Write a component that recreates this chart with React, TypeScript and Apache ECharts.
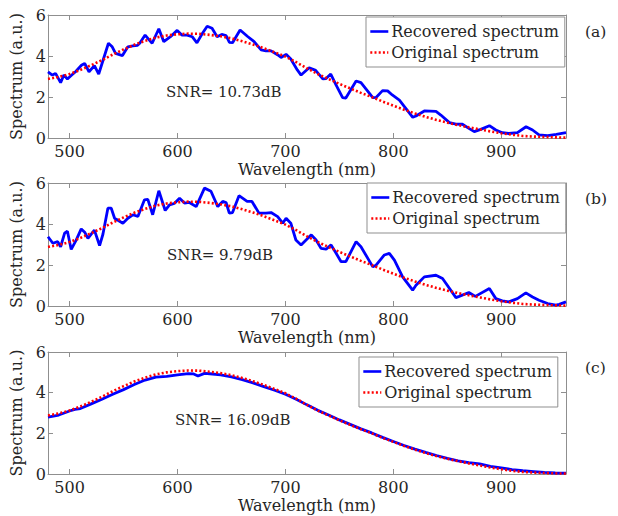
import React, { useEffect, useRef } from "react";
import * as echarts from "echarts";

// Original (reference) spectrum, sampled every 10 nm
const ORIGINAL_WL = [
  480, 490, 500, 510, 520, 530, 540, 550, 560, 570, 580, 590, 600, 610, 620, 630, 640, 650, 660, 670,
  680, 690, 700, 710, 720, 730, 740, 750, 760, 770, 780, 790, 800, 810, 820, 830, 840, 850, 860, 870,
  880, 890, 900, 910, 920, 930, 940, 950, 960,
];
const ORIGINAL = [
  2.88, 2.98, 3.12, 3.32, 3.55, 3.8, 4.07, 4.32, 4.55, 4.74, 4.9, 5.0, 5.06, 5.09, 5.08, 5.03, 4.96, 4.86, 4.72, 4.56,
  4.38, 4.18, 3.97, 3.7, 3.4, 3.12, 2.88, 2.64, 2.42, 2.2, 2.0, 1.78, 1.58, 1.38, 1.2, 1.03, 0.88, 0.75, 0.63, 0.52,
  0.42, 0.32, 0.23, 0.16, 0.1, 0.07, 0.05, 0.03, 0.02,
];

// (a) recovered spectrum, SNR 10.73 dB
const REC_A_WL = [
  480, 484, 487, 491.7, 494.7, 498, 502, 505.5, 511, 514, 518, 523, 527, 536, 539.5, 542.6, 549, 554, 558.6, 563,
  565, 570, 576.5, 582.7, 587.3, 593.5, 599.7, 604, 609, 613.6, 618, 623, 627.5, 632, 636.7, 641, 645, 648, 651, 658,
  665, 671, 677.5, 682, 686.7, 693, 696, 700.6, 705, 711, 714.5, 722, 728, 734.6, 737.7, 742, 747, 753, 756, 765.5,
  770, 781, 784, 790, 794.7, 799, 805.6, 818, 821, 828.7, 839.5, 844, 852, 858, 864, 870, 875, 881, 889, 895,
  901, 907, 915, 923, 929, 935, 943, 951, 960,
];
const REC_A = [
  3.23, 3.07, 3.15, 2.7, 3.07, 2.88, 3.07, 3.23, 3.55, 3.64, 3.23, 3.53, 3.12, 4.62, 4.45, 4.13, 4.02, 4.45, 4.49, 4.52,
  4.62, 5.02, 4.62, 5.33, 4.7, 4.94, 5.25, 5.02, 5.02, 4.94, 4.64, 5.1, 5.45, 5.35, 4.94, 5.05, 5.0, 4.67, 4.65, 5.27,
  4.95, 4.7, 4.3, 4.25, 4.25, 4.05, 3.93, 4.08, 3.85, 3.32, 3.07, 3.43, 3.3, 2.88, 2.9, 3.12, 2.58, 1.97, 1.95, 2.78,
  2.7, 1.97, 1.98, 2.31, 2.3, 2.1, 1.85, 1.01, 1.07, 1.32, 1.3, 1.12, 0.75, 0.68, 0.67, 0.47, 0.31, 0.42, 0.6, 0.39,
  0.26, 0.22, 0.26, 0.55, 0.39, 0.15, 0.12, 0.18, 0.26,
];

// (b) recovered spectrum, SNR 9.79 dB
const REC_B_WL = [
  480, 484.5, 489, 491.7, 495.4, 498, 501.5, 506, 510.8, 514, 517, 523, 527.8, 530.9, 535.5, 538.6, 541.7, 549.4, 554, 558.6,
  563.3, 569.4, 572.5, 577, 582.7, 588.6, 592.6, 597, 601.9, 606.5, 611, 617.3, 625, 631, 637.3, 641.9, 645, 648, 651, 657,
  664.5, 669, 675.5, 682, 686.7, 692.8, 697.5, 700.6, 705, 709.7, 714.5, 724, 728.4, 733, 737.7, 742.3, 747, 751.6, 756, 765.5,
  770, 781, 784, 791.7, 796.3, 801, 808.6, 817.9, 821, 828.7, 839.5, 845.6, 858, 861, 870, 876, 889, 895, 901, 907,
  915, 922.8, 929, 935, 943, 950.6, 953.7, 960,
];
const REC_B = [
  3.38, 3.06, 3.14, 2.89, 3.55, 3.65, 2.76, 3.2, 3.76, 3.6, 3.3, 3.7, 2.95, 3.5, 4.77, 4.77, 4.28, 4.04, 4.28, 4.45,
  4.37, 5.18, 5.2, 4.45, 5.62, 4.66, 4.93, 5.0, 5.26, 5.02, 5.05, 4.85, 5.75, 5.6, 4.85, 5.1, 5.05, 4.53, 4.56, 5.38,
  5.1, 5.1, 4.53, 4.53, 4.56, 4.36, 4.04, 4.28, 4.04, 3.22, 2.98, 3.47, 3.22, 2.81, 2.77, 2.98, 2.57, 2.16, 2.16, 3.14,
  2.89, 1.91, 1.99, 2.49, 2.57, 2.24, 1.42, 0.77, 1.01, 1.42, 1.5, 1.34, 0.41, 0.47, 0.66, 0.47, 0.85, 0.36, 0.25, 0.2,
  0.36, 0.64, 0.44, 0.28, 0.12, 0.04, 0.08, 0.2,
];

// (c) recovered spectrum, SNR 16.09 dB
const REC_C_WL = [
  480, 490, 500, 505, 510, 520, 530, 540, 550, 560, 570, 580, 590, 600, 610, 615, 619, 625, 630, 640,
  650, 660, 670, 680, 690, 700, 710, 720, 730, 740, 750, 760, 770, 780, 790, 800, 810, 820, 830, 840,
  850, 860, 870, 880, 890, 900, 910, 920, 930, 940, 950, 960,
];
const REC_C = [
  2.8, 2.9, 3.1, 3.18, 3.22, 3.45, 3.68, 3.92, 4.15, 4.4, 4.62, 4.76, 4.8, 4.88, 4.94, 4.92, 4.82, 4.95, 4.93, 4.88,
  4.78, 4.64, 4.48, 4.3, 4.12, 3.92, 3.68, 3.4, 3.13, 2.9, 2.66, 2.44, 2.22, 2.02, 1.8, 1.6, 1.4, 1.22, 1.06, 0.91,
  0.77, 0.65, 0.56, 0.5, 0.38, 0.3, 0.22, 0.16, 0.12, 0.08, 0.05, 0.04,
];

const SNR_LABELS = ["SNR= 10.73dB", "SNR= 9.79dB", "SNR= 16.09dB"];
const PANEL_TAGS = ["(a)", "(b)", "(c)"];
const SERIES_NAMES = ["Recovered spectrum", "Original spectrum"];

const FONT = "DejaVu Serif";
const AXIS_GRAY = "#8f8f8f";
const TEXT_DARK = "#262626";

const PANELS = [
  { top: 15, height: 123, wl: REC_A_WL, rec: REC_A, legendLeft: 366, legendTop: 17, snrX: 166, snrY: 92, tagY: 32 },
  { top: 183, height: 123, wl: REC_B_WL, rec: REC_B, legendLeft: 367, legendTop: 183, snrX: 167, snrY: 255, tagY: 199 },
  { top: 352, height: 122, wl: REC_C_WL, rec: REC_C, legendLeft: 359, legendTop: 357, snrX: 175, snrY: 420, tagY: 368 },
];

const zip = (xs: number[], ys: number[]) => xs.map((x, i) => [x, ys[i]]);

function buildOption(): echarts.EChartsOption {
  const grid: any[] = [];
  const xAxis: any[] = [];
  const yAxis: any[] = [];
  const series: any[] = [];
  const legend: any[] = [];
  const graphic: any[] = [];

  const tick = { show: true, inside: true, length: 5, lineStyle: { color: AXIS_GRAY, width: 1 } };
  const line = { show: true, onZero: false, lineStyle: { color: AXIS_GRAY, width: 1 } };
  const labelStyle = { color: TEXT_DARK, fontFamily: FONT, fontSize: 16 };

  PANELS.forEach((p, i) => {
    grid.push({ left: 48, top: p.top, width: 518, height: p.height, containLabel: false });

    const xBase = { gridIndex: i, type: "value", min: 480, max: 960, splitNumber: 5, splitLine: { show: false }, axisLine: line, axisTick: tick };
    xAxis.push({
      ...xBase,
      position: "bottom",
      axisLabel: { ...labelStyle, lineHeight: 14, margin: 6, showMinLabel: false, showMaxLabel: false },
      name: "Wavelength (nm)",
      nameLocation: "middle",
      nameGap: 23,
      nameTextStyle: { ...labelStyle, lineHeight: 16 },
    });
    xAxis.push({ ...xBase, position: "top", axisLabel: { show: false } });

    const yBase = { gridIndex: i, type: "value", min: 0, max: 6, interval: 2, splitLine: { show: false }, axisLine: line, axisTick: tick };
    yAxis.push({
      ...yBase,
      position: "left",
      axisLabel: { ...labelStyle, margin: 2 },
      name: "Spectrum (a.u.)",
      nameLocation: "middle",
      nameRotate: 90,
      nameGap: 15,
      nameTextStyle: { ...labelStyle, lineHeight: 16 },
    });
    yAxis.push({ ...yBase, position: "right", axisLabel: { show: false } });

    series.push({
      name: SERIES_NAMES[0],
      type: "line",
      xAxisIndex: i * 2,
      yAxisIndex: i * 2,
      data: zip(p.wl, p.rec),
      symbol: "none",
      lineStyle: { color: "#0000ff", width: 2.8 },
      itemStyle: { color: "#0000ff" },
      z: 2,
    });
    series.push({
      name: SERIES_NAMES[1],
      type: "line",
      xAxisIndex: i * 2,
      yAxisIndex: i * 2,
      data: zip(ORIGINAL_WL, ORIGINAL),
      symbol: "none",
      lineStyle: { color: "#ff0000", width: 2.6, type: [2, 2.2], cap: "butt" },
      itemStyle: { color: "#ff0000" },
      z: 3,
    });

    legend.push({
      data: SERIES_NAMES,
      orient: "vertical",
      left: p.legendLeft,
      top: p.legendTop,
      backgroundColor: "#ffffff",
      borderColor: AXIS_GRAY,
      borderWidth: 1,
      padding: [5, 6, 5, 3],
      itemGap: 2,
      itemWidth: 18,
      itemHeight: 14,
      itemStyle: { opacity: 0 },
      lineStyle: { width: 2.6 },
      textStyle: { ...labelStyle, lineHeight: 19, padding: [0, 0, 0, -2] },
      selectedMode: false,
      z: 10,
    });

    graphic.push({
      type: "text",
      x: p.snrX,
      y: p.snrY,
      style: { text: SNR_LABELS[i], fontFamily: FONT, fontSize: 15, fill: TEXT_DARK, verticalAlign: "middle" },
      z: 10,
    });
    graphic.push({
      type: "text",
      x: 585,
      y: p.tagY,
      style: { text: PANEL_TAGS[i], fontFamily: FONT, fontSize: 15.5, fill: TEXT_DARK, verticalAlign: "middle" },
      z: 10,
    });
  });

  return {
    animation: false,
    backgroundColor: "#ffffff",
    textStyle: { fontFamily: FONT, fontSize: 16, color: TEXT_DARK },
    grid,
    xAxis,
    yAxis,
    series,
    legend,
    graphic,
  } as any;
}

export default function App() {
  const ref = useRef<HTMLDivElement>(null);
  useEffect(() => {
    if (!ref.current) return;
    const chart = echarts.init(ref.current, undefined, { renderer: "svg" });
    chart.setOption(buildOption());
    return () => chart.dispose();
  }, []);
  return <div ref={ref} style={{ position: "absolute", left: 0, top: 0, width: 618, height: 516 }} />;
}
